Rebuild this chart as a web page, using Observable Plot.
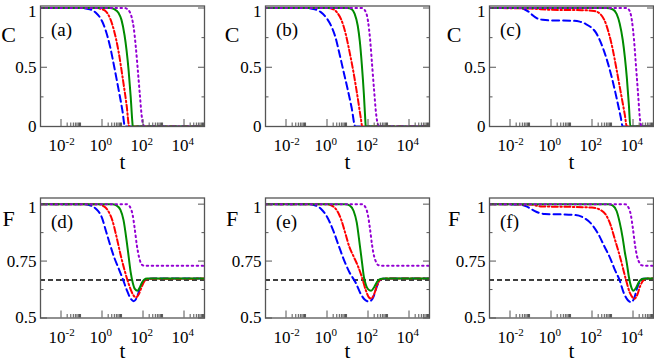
<!DOCTYPE html>
<html><head><meta charset="utf-8">
<script src="https://cdn.jsdelivr.net/npm/d3@7"></script>
<script src="https://cdn.jsdelivr.net/npm/@observablehq/plot@0.6"></script>
<style>
body{margin:0;background:#fff;}
#chart{position:relative;width:654px;height:362px;overflow:hidden;background:#fff;}
#chart svg{position:absolute;overflow:visible;}
#chart svg, #chart svg text{font-family:"Liberation Serif","Times New Roman","DejaVu Serif",serif !important;}
</style></head><body><div id="chart"></div>
<script>
// ---- axis / tick data ----
const xDomainExp = [-3, 5];
const xMajorExp = [-2, 0, 2, 4];
const xMinorMult = [2, 3, 4, 5, 6, 7, 8, 9];
const cTicks = [0, 0.5, 1];
const cTickLabels = ["0", "0.5", "1"];
const cMinor = [0.25, 0.75];
const fTicks = [0.5, 0.75, 1];
const fTickLabels = ["0.5", "0.75", "1"];
const fMinor = [0.625, 0.875];
const fReference = [2 / 3];
const panelLabels = ["(a)", "(b)", "(c)", "(d)", "(e)", "(f)"];
const seriesColors = ["#0000ff", "#ff0000", "#008b00", "#9400d3"];

// ---- curves: [log10 t, value] ----
const a_blue = [[-3,1],[-1,1],[-0.6,0.99],[-0.3,0.96],[0,0.89],[0.2,0.8],[0.4,0.67],[0.6,0.5],[0.8,0.32],[1.0,0.13],[1.12,0],[5,0]];
const a_red = [[-3,1],[-0.3,1],[0,0.99],[0.2,0.97],[0.4,0.91],[0.6,0.8],[0.8,0.64],[1.0,0.42],[1.2,0.18],[1.33,0],[5,0]];
const a_green = [[-3,1],[0.4,1],[0.6,0.99],[0.8,0.96],[0.95,0.9],[1.1,0.77],[1.2,0.64],[1.3,0.47],[1.4,0.25],[1.48,0.04],[1.5,0],[5,0]];
const a_purple = [[-3,1],[1.1,1],[1.3,0.98],[1.45,0.92],[1.55,0.83],[1.65,0.67],[1.75,0.47],[1.85,0.26],[1.93,0.1],[2.0,0.02],[2.1,0],[5,0]];

const b_blue = [[-3,1],[-1,1],[-0.6,0.99],[-0.3,0.965],[0,0.91],[0.2,0.85],[0.4,0.76],[0.6,0.62],[0.8,0.47],[1.0,0.32],[1.2,0.16],[1.38,0],[5,0]];
const b_red = [[-3,1],[0,1],[0.3,0.99],[0.5,0.96],[0.7,0.9],[0.9,0.79],[1.1,0.63],[1.3,0.45],[1.5,0.24],[1.65,0.07],[1.72,0],[5,0]];
const b_green = [[-3,1],[1.0,1],[1.2,0.99],[1.35,0.95],[1.5,0.85],[1.6,0.72],[1.7,0.52],[1.8,0.27],[1.87,0.05],[1.89,0],[5,0]];
const b_purple = [[-3,1],[1.7,1],[1.85,0.98],[2.0,0.89],[2.1,0.74],[2.2,0.52],[2.3,0.3],[2.4,0.1],[2.5,0.01],[2.6,0],[5,0]];

const c_blue = [[-3,1],[-1.6,1],[-1.3,0.99],[-1.1,0.97],[-0.9,0.94],[-0.7,0.915],[-0.4,0.9],[0,0.895],[1,0.893],[1.4,0.885],[1.7,0.865],[2.0,0.83],[2.2,0.79],[2.4,0.72],[2.6,0.63],[2.8,0.52],[3.0,0.39],[3.2,0.24],[3.4,0.08],[3.5,0],[5,0]];
const c_red = [[-3,1],[-1,0.995],[0,0.985],[1.5,0.982],[2.1,0.975],[2.4,0.95],[2.6,0.9],[2.8,0.8],[3.0,0.66],[3.2,0.48],[3.4,0.29],[3.6,0.1],[3.7,0],[5,0]];
const c_green = [[-3,1],[2.7,1],[3.0,0.99],[3.2,0.95],[3.35,0.87],[3.5,0.73],[3.6,0.59],[3.7,0.41],[3.8,0.18],[3.87,0],[5,0]];
const c_purple = [[-3,1],[3.7,1],[3.85,0.97],[3.95,0.89],[4.05,0.73],[4.15,0.5],[4.25,0.27],[4.33,0.08],[4.42,0],[5,0]];

const d_blue = [[-3,1],[-1,1],[-0.6,0.995],[-0.3,0.98],[0,0.94],[0.2,0.88],[0.4,0.82],[0.6,0.765],[0.8,0.72],[1.0,0.675],[1.2,0.625],[1.4,0.585],[1.55,0.574],[1.7,0.59],[1.85,0.63],[2.0,0.66],[2.2,0.671],[2.5,0.673],[5,0.673]];
const d_red = [[-3,1],[-0.2,1],[0.1,0.99],[0.3,0.97],[0.5,0.93],[0.7,0.86],[0.9,0.78],[1.1,0.71],[1.3,0.65],[1.5,0.605],[1.65,0.59],[1.8,0.605],[1.95,0.64],[2.1,0.665],[2.3,0.672],[5,0.673]];
const d_green = [[-3,1],[0.5,1],[0.7,0.995],[0.9,0.975],[1.05,0.93],[1.2,0.84],[1.3,0.77],[1.4,0.7],[1.5,0.655],[1.6,0.628],[1.73,0.62],[1.85,0.635],[1.95,0.655],[2.05,0.668],[2.2,0.673],[5,0.673]];
const d_purple = [[-3,1],[1.2,1],[1.35,0.99],[1.5,0.95],[1.6,0.89],[1.7,0.82],[1.8,0.77],[1.9,0.74],[2.0,0.731],[2.2,0.729],[5,0.729]];

const e_blue = [[-3,1],[-1,1],[-0.6,0.995],[-0.3,0.98],[0,0.945],[0.3,0.885],[0.6,0.81],[0.85,0.75],[1.1,0.7],[1.4,0.655],[1.65,0.605],[1.85,0.58],[2.05,0.572],[2.25,0.59],[2.4,0.63],[2.55,0.662],[2.7,0.672],[3,0.673],[5,0.673]];
const e_red = [[-3,1],[0,1],[0.3,0.99],[0.5,0.97],[0.7,0.93],[0.9,0.87],[1.1,0.81],[1.3,0.77],[1.5,0.73],[1.7,0.68],[1.9,0.62],[2.05,0.59],[2.15,0.585],[2.3,0.605],[2.45,0.645],[2.6,0.668],[2.8,0.673],[5,0.673]];
const e_green = [[-3,1],[0.9,1],[1.1,0.995],[1.3,0.97],[1.45,0.92],[1.6,0.82],[1.7,0.75],[1.8,0.68],[1.9,0.645],[2.0,0.627],[2.15,0.62],[2.3,0.635],[2.45,0.66],[2.6,0.671],[2.8,0.673],[5,0.673]];
const e_purple = [[-3,1],[1.7,1],[1.85,0.99],[2.0,0.95],[2.1,0.89],[2.2,0.82],[2.3,0.77],[2.4,0.745],[2.5,0.732],[2.7,0.729],[5,0.729]];

const f_blue = [[-3,1],[-1.5,0.998],[-1.2,0.99],[-0.9,0.975],[-0.6,0.962],[-0.3,0.957],[0.5,0.955],[1.2,0.952],[1.6,0.94],[2.0,0.91],[2.3,0.87],[2.6,0.815],[2.9,0.76],[3.1,0.715],[3.35,0.665],[3.55,0.61],[3.75,0.578],[3.9,0.57],[4.05,0.585],[4.2,0.63],[4.35,0.662],[4.5,0.672],[5,0.673]];
const f_red = [[-3,1],[-1,0.998],[-0.5,0.99],[1,0.988],[2.0,0.985],[2.4,0.975],[2.7,0.95],[2.9,0.91],[3.1,0.85],[3.3,0.79],[3.45,0.74],[3.65,0.67],[3.85,0.61],[4.0,0.588],[4.08,0.585],[4.2,0.6],[4.35,0.64],[4.5,0.665],[4.7,0.673],[5,0.673]];
const f_green = [[-3,1],[2.8,1],[3.0,0.995],[3.2,0.97],[3.35,0.92],[3.5,0.85],[3.6,0.79],[3.7,0.74],[3.8,0.68],[3.9,0.64],[4.02,0.62],[4.15,0.633],[4.3,0.66],[4.45,0.671],[4.6,0.673],[5,0.673]];
const f_purple = [[-3,1],[3.6,1],[3.75,0.99],[3.9,0.95],[4.0,0.89],[4.1,0.82],[4.2,0.77],[4.3,0.745],[4.4,0.732],[4.6,0.729],[5,0.729]];

// ---- layout ----
const FONT = "Liberation Serif";
const seriesDash = ["7,4", "6,2.5,1.5,2.5", null, "1.5,3.5"];
const panels = [
  {row:0, col:0, curves:[a_blue,a_red,a_green,a_purple]},
  {row:0, col:1, curves:[b_blue,b_red,b_green,b_purple]},
  {row:0, col:2, curves:[c_blue,c_red,c_green,c_purple]},
  {row:1, col:0, curves:[d_blue,d_red,d_green,d_purple]},
  {row:1, col:1, curves:[e_blue,e_red,e_green,e_purple]},
  {row:1, col:2, curves:[f_blue,f_red,f_green,f_purple]}
];
const colLeft = [0, 224.5, 449];
const rowTop = [0, 192];
const frameColor = "#555";
const yLabelDx = [-32, -33.5, -35.5];

const xMinor = xMajorExp.flatMap(k => xMinorMult.map(m => m * 10 ** k));
const root = document.getElementById("chart");

panels.forEach((p, i) => {
  const isC = p.row === 0;
  const yDomain = isC ? [0, 1.017] : [0.5, 1.027];
  const major = isC ? cTicks : fTicks;
  const majorLab = isC ? cTickLabels : fTickLabels;
  const minor = isC ? cMinor : fMinor;
  const lowMajor = major.slice(0, -1), lowLab = majorLab.slice(0, -1);
  const topMajor = major.slice(-1), topLab = majorLab.slice(-1);
  const txt = {fontFamily: FONT, fill: "#000"};
  const marks = [];
  if (!isC) {
    marks.push(Plot.ruleY(fReference, {stroke: "#000", strokeWidth: 1.5, strokeDasharray: "5,3"}));
  }
  p.curves.forEach((c, j) => {
    marks.push(Plot.line(c, {
      x: d => 10 ** d[0], y: d => d[1],
      stroke: seriesColors[j], strokeWidth: 2,
      strokeDasharray: seriesDash[j] ?? undefined,
      curve: "monotone-x", clip: true
    }));
  });
  marks.push(
    Plot.frame({stroke: frameColor, strokeWidth: 1.3}),
    Plot.axisY(major, {anchor: "left", tickSize: -7, stroke: frameColor, fill: "none", label: null}),
    Plot.axisY(minor, {anchor: "left", tickSize: -3.5, stroke: frameColor, fill: "none", label: null}),
    Plot.axisY(major, {anchor: "right", tickSize: -7, stroke: frameColor, fill: "none", label: null}),
    Plot.axisY(minor, {anchor: "right", tickSize: -3.5, stroke: frameColor, fill: "none", label: null}),
    Plot.axisX(xMajorExp.map(k => 10 ** k), {anchor: "bottom", tickSize: -7, stroke: frameColor, fill: "none", label: null}),
    Plot.axisX(xMinor, {anchor: "bottom", tickSize: -3.5, stroke: frameColor, fill: "none", label: null}),
    // y tick labels
    Plot.text(lowMajor, {y: d => d, text: (d, k) => lowLab[k], frameAnchor: "left", dx: -4, textAnchor: "end", lineAnchor: "middle", fontSize: 17, ...txt}),
    Plot.text(topMajor, {y: d => d, text: (d, k) => topLab[k], frameAnchor: "left", dx: -4, dy: 3.5, textAnchor: "end", lineAnchor: "middle", fontSize: 17, ...txt}),
    // x tick labels 10^k
    Plot.text(xMajorExp, {x: d => 10 ** d, text: () => "10", frameAnchor: "bottom", dy: 24.5, dx: -4, textAnchor: "middle", lineAnchor: "bottom", fontSize: 17, ...txt}),
    Plot.text(xMajorExp, {x: d => 10 ** d, text: d => String(d), frameAnchor: "bottom", dy: 18, dx: 4.5, textAnchor: "start", lineAnchor: "bottom", fontSize: 11, ...txt}),
    // axis titles
    Plot.text(["t"], {text: d => d, frameAnchor: "bottom", dy: isC ? 42 : 39.5, textAnchor: "middle", lineAnchor: "bottom", fontSize: 21, ...txt}),
    Plot.text([isC ? "C" : "F"], {text: d => d, frameAnchor: "top-left", dx: yLabelDx[p.col], dy: isC ? 36 : 28, textAnchor: "middle", lineAnchor: "bottom", fontSize: 22, ...txt}),
    Plot.text([panelLabels[i]], {text: d => d, frameAnchor: "top-left", dx: 10.5, dy: 29.5, textAnchor: "start", lineAnchor: "bottom", fontSize: 19, ...txt})
  );
  const h = isC ? 180 : 170;
  const svg = Plot.plot({
    width: 205, height: h,
    marginLeft: 40, marginRight: 1, marginTop: 5.5,
    marginBottom: isC ? 54 : 44.5,
    style: {background: "transparent", overflow: "visible"},
    x: {type: "log", domain: xDomainExp.map(e => 10 ** e)},
    y: {domain: yDomain},
    marks
  });
  svg.style.left = colLeft[p.col] + "px";
  svg.style.top = rowTop[p.row] + "px";
  root.appendChild(svg);
});
</script></body></html>
